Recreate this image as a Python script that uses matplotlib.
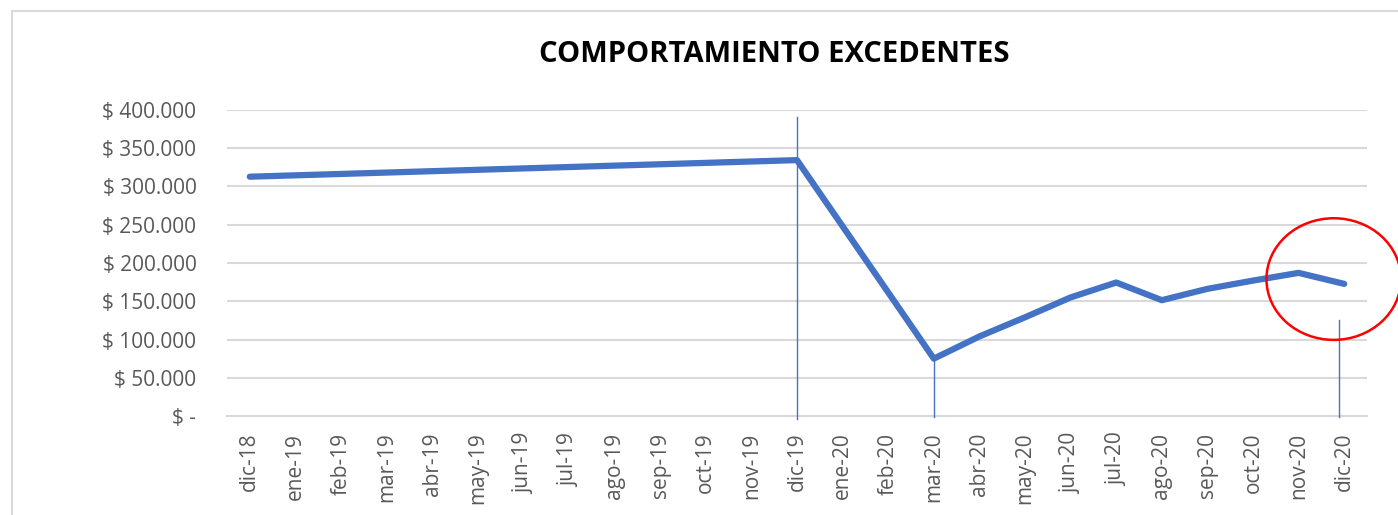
import matplotlib
matplotlib.use("Agg")
import matplotlib.pyplot as plt
from matplotlib.patches import Ellipse, Rectangle
from matplotlib.ticker import FuncFormatter

# Datos
meses = ["dic-18", "ene-19", "feb-19", "mar-19", "abr-19", "may-19", "jun-19",
         "jul-19", "ago-19", "sep-19", "oct-19", "nov-19", "dic-19", "ene-20",
         "feb-20", "mar-20", "abr-20", "may-20", "jun-20", "jul-20", "ago-20",
         "sep-20", "oct-20", "nov-20", "dic-20"]
meses_con_dato = ["dic-18", "dic-19", "mar-20", "abr-20", "may-20", "jun-20",
                  "jul-20", "ago-20", "sep-20", "oct-20", "nov-20", "dic-20"]
excedentes = [312800, 334500, 75000, 104000, 129000, 155000,
              174500, 151400, 166200, 177000, 187100, 172700]

# lineas verticales dibujadas a mano sobre el grafico
marcas_mes = ["dic-19", "mar-20", "dic-20"]
marcas_desde = [-4000, -1000, -1000]
marcas_hasta = [391000, 73000, 125000]

azul = "#4472C4"
gris = "#595959"

plt.rcParams["font.family"] = ["Open Sans", "DejaVu Sans"]

fig = plt.figure(figsize=(13.98, 5.15), dpi=100)
ax = fig.add_axes([227 / 1398, 1 - 416 / 515, (1367 - 227) / 1398, 306 / 515])

# marco del area del grafico
fig.patches.append(Rectangle((12 / 1398, -0.1), 1.2, 1 - 11 / 515 + 0.1,
                             transform=fig.transFigure, fill=False,
                             edgecolor="#d9d9d9", linewidth=1.5))

x = [meses.index(m) for m in meses_con_dato]
ax.plot(x, excedentes, color=azul, linewidth=4.5, solid_capstyle="round",
        solid_joinstyle="round", zorder=3)

for m, y0, y1 in zip(marcas_mes, marcas_desde, marcas_hasta):
    xi = meses.index(m)
    if m == "dic-20":
        xi -= 0.12
    ax.plot([xi, xi], [y0, y1], color=azul, linewidth=1, clip_on=False, zorder=4)

# circulo rojo
ax.add_patch(Ellipse((23.77, 179000), 2.95, 159000, fill=False,
                     edgecolor="red", linewidth=1.8, clip_on=False, zorder=5))

ax.set_xlim(-0.5, len(meses) - 0.5)
ax.set_ylim(0, 400000)
ax.set_yticks(range(0, 400001, 50000))
ax.yaxis.set_major_formatter(FuncFormatter(
    lambda v, p: "$ -" if v == 0 else "$ " + f"{int(v):,}".replace(",", ".")))
ax.set_xticks(range(len(meses)))
ax.set_xticklabels(meses, rotation=90)

ax.grid(axis="y", color="#d9d9d9", linewidth=1.5)
ax.set_axisbelow(True)
for s in ["top", "right", "left"]:
    ax.spines[s].set_visible(False)
ax.spines["bottom"].set_color("#d9d9d9")
ax.spines["bottom"].set_linewidth(1.5)
ax.tick_params(axis="both", length=0, colors=gris, labelsize=15)
ax.tick_params(axis="x", pad=12)
ax.tick_params(axis="y", pad=22)

fig.text(774 / 1398, 1 - 55 / 515, "COMPORTAMIENTO EXCEDENTES", ha="center",
         va="center", fontsize=21, fontweight="bold", color="black")

fig.savefig("out.png", dpi=100)
